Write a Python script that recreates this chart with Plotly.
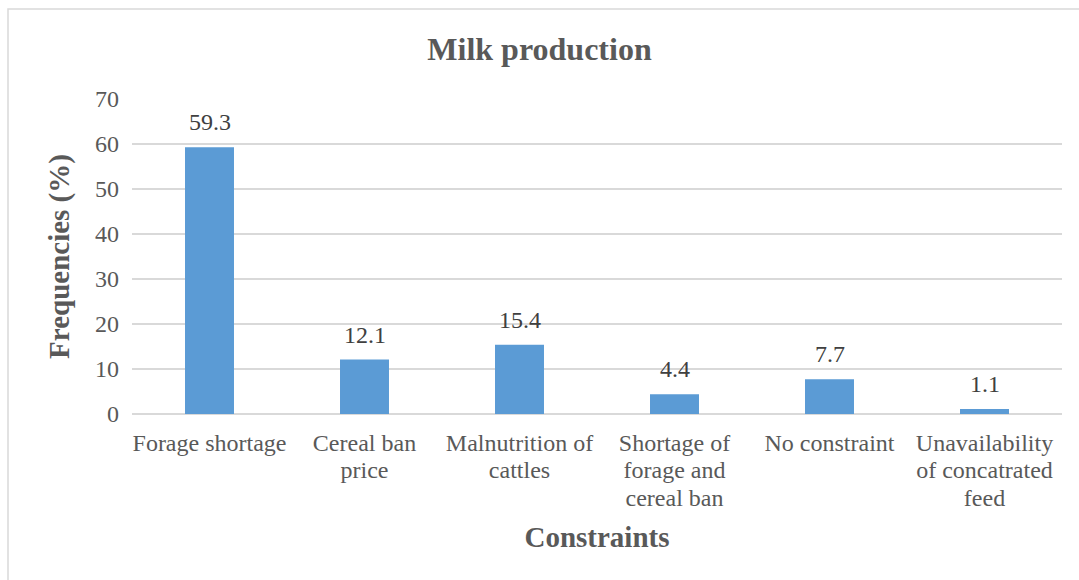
import plotly.graph_objects as go

# Constraints on milk production and their reported frequencies (%)
category_lines = [
    ["Forage shortage"],
    ["Cereal ban", "price"],
    ["Malnutrition of", "cattles"],
    ["Shortage of", "forage and", "cereal ban"],
    ["No constraint"],
    ["Unavailability", "of concatrated", "feed"],
]
frequencies = [59.3, 12.1, 15.4, 4.4, 7.7, 1.1]
y_ticks = [0, 10, 20, 30, 40, 50, 60, 70]

W, H = 1079, 580
ML, MR, MT, MB = 132, 17, 99, 166
PW, PH = W - ML - MR, H - MT - MB

FONT = "Liberation Serif"
GREY = "#595959"

# Tick labels: glyphs at 24px, line pitch driven by a smaller base size
categories = [
    "<br>".join(f'<span style="font-size:24px">{ln}</span>' for ln in lines)
    for lines in category_lines
]

fig = go.Figure(
    go.Bar(
        x=categories,
        y=frequencies,
        marker=dict(color="#5b9bd5", line=dict(width=0)),
        cliponaxis=False,
    )
)

# Value labels above each bar
for cat, val in zip(categories, frequencies):
    fig.add_annotation(
        x=cat,
        y=val,
        text=f"{val:.1f}",
        showarrow=False,
        yanchor="bottom",
        yshift=10,
        font=dict(family=FONT, size=24, color="#404040"),
    )

fig.update_layout(
    width=W,
    height=H,
    margin=dict(l=ML, r=MR, t=MT, b=MB),
    paper_bgcolor="white",
    plot_bgcolor="white",
    bargap=0.684,
    showlegend=False,
    font=dict(family=FONT, color=GREY),
    title=dict(
        text="<b>Milk production</b>",
        x=0.5,
        xanchor="center",
        y=1 - 49 / H,
        yanchor="middle",
        font=dict(family=FONT, size=32, color=GREY),
    ),
    xaxis=dict(
        showgrid=False,
        showline=False,
        ticks="",
        ticklabelstandoff=15,
        tickfont=dict(family=FONT, size=21, color=GREY),
        title=dict(
            text="<b>Constraints</b>",
            font=dict(family=FONT, size=29, color=GREY),
            standoff=17,
        ),
    ),
    yaxis=dict(
        range=[0, 70],
        tickvals=y_ticks,
        showgrid=True,
        gridcolor="#d9d9d9",
        gridwidth=1.5,
        zeroline=True,
        zerolinecolor="#d9d9d9",
        zerolinewidth=1.5,
        showline=False,
        ticks="",
        ticklabelstandoff=12,
        tickfont=dict(family=FONT, size=24, color=GREY),
        title=dict(
            text="<b>Frequencies (%)</b>",
            font=dict(family=FONT, size=29, color=GREY),
            standoff=16,
        ),
    ),
)

# Light frame around the chart area (top and left edges visible)
fig.add_shape(
    type="rect",
    xref="paper",
    yref="paper",
    x0=(8 - ML) / PW,
    x1=(W + 5 - ML) / PW,
    y0=-(MB + 5) / PH,
    y1=1 + (MT - 9) / PH,
    line=dict(color="#d9d9d9", width=1.5),
    fillcolor="rgba(0,0,0,0)",
    layer="below",
)

fig.write_html("out.html")
